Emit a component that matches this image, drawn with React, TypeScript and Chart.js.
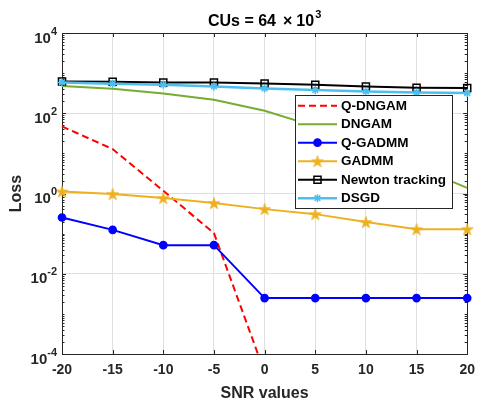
import React, { useEffect, useRef } from 'react';
import { Chart, registerables } from 'chart.js';
import { drawPoint } from 'chart.js/helpers';

Chart.register(...registerables);

// ---- data ----
const snrValues = [-20, -15, -10, -5, 0, 5, 10, 15, 20];
const seriesNames = ['Q-DNGAM', 'DNGAM', 'Q-GADMM', 'GADMM', 'Newton tracking', 'DSGD'];
const qDngam = [46.9, 12.8, 1.17, 0.103, 3.5e-5, null, null, null, null];
const dngam = [480, 410, 310, 218, 115, 47, 14.5, 4.6, 1.38];
const qGadmm = [0.252, 0.124, 0.0516, 0.0516, 0.00247, 0.00247, 0.00247, 0.00247, 0.00247];
const gadmm = [1.12, 0.966, 0.768, 0.576, 0.408, 0.306, 0.194, 0.129, 0.129];
const newtonTracking = [621, 611, 586, 586, 553, 514, 466, 433, 425];
const dsgd = [586, 545, 514, 466, 415, 379, 350, 330, 319];
const xTickStep = 5;
const yTickExponents = [-4, -2, 0, 2, 4];
const titleMain = 'CUs = 64';
const titleTimes = '\u00D7';
const titleBase = '10';
const titleExp = '3';
const xTitle = 'SNR values';
const yTitle = 'Loss';

const FF = "'Liberation Sans', Arial, Helvetica, sans-serif";
const AX = '#262626';
const GRID = '#dfdfdf';
const colors = ['#FF0000', '#77AC30', '#0000FF', '#EDB120', '#000000', '#4DBEEE'];

function makePentagram(color: string): HTMLCanvasElement {
  const c = document.createElement('canvas');
  c.width = 16;
  c.height = 16;
  const g = c.getContext('2d')!;
  const R = 6.2;
  const r = R * 0.382;
  g.beginPath();
  for (let i = 0; i < 10; i++) {
    const rad = i % 2 === 0 ? R : r;
    const a = -Math.PI / 2 + (i * Math.PI) / 5;
    const px = 8 + rad * Math.cos(a);
    const py = 8.6 + rad * Math.sin(a);
    if (i === 0) g.moveTo(px, py);
    else g.lineTo(px, py);
  }
  g.closePath();
  g.fillStyle = color;
  g.fill();
  g.strokeStyle = color;
  g.lineWidth = 0.8;
  g.stroke();
  return c;
}

const decorPlugin = {
  id: 'decor',
  beforeDatasetsDraw(chart: any) {
    const { ctx, chartArea } = chart;
    const { left, right, top, bottom } = chartArea;
    const xs = chart.scales.x;
    const ys = chart.scales.y;
    ctx.save();
    ctx.strokeStyle = AX;
    ctx.lineWidth = 1;
    ctx.strokeRect(Math.round(left) + 0.5, Math.round(top) + 0.5, Math.round(right - left), Math.round(bottom - top));
    ctx.beginPath();
    // x ticks (inward)
    for (let v = xs.min; v <= xs.max; v += xTickStep) {
      const px = Math.round(xs.getPixelForValue(v)) + 0.5;
      ctx.moveTo(px, bottom);
      ctx.lineTo(px, bottom - 4);
      ctx.moveTo(px, top);
      ctx.lineTo(px, top + 4);
    }
    // y ticks (major + minor, inward)
    for (let e = -4; e < 4; e++) {
      for (let k = 1; k <= 9; k++) {
        const v = k * Math.pow(10, e);
        const py = Math.round(ys.getPixelForValue(v)) + 0.5;
        const major = k === 1 && yTickExponents.includes(e);
        const len = major ? 4 : 2.5;
        ctx.moveTo(left, py);
        ctx.lineTo(left + len, py);
        ctx.moveTo(right, py);
        ctx.lineTo(right - len, py);
      }
    }
    ctx.stroke();
    ctx.restore();
  },
  afterDraw(chart: any) {
    const { ctx, chartArea } = chart;
    const { left, right, top, bottom } = chartArea;
    const ys = chart.scales.y;
    ctx.save();
    // y tick labels with superscripts
    ctx.fillStyle = AX;
    ctx.textBaseline = 'alphabetic';
    ctx.textAlign = 'left';
    for (const e of yTickExponents) {
      const py = ys.getPixelForValue(Math.pow(10, e));
      const expStr = String(e);
      ctx.font = `bold 11px ${FF}`;
      const we = ctx.measureText(expStr).width;
      ctx.font = `bold 15px ${FF}`;
      const wb = ctx.measureText('10').width;
      const xEnd = left - 5;
      ctx.fillText('10', xEnd - we - wb, py + 9.5);
      ctx.font = `bold 11px ${FF}`;
      ctx.fillText(expStr, xEnd - we, py + 1.5);
    }
    // y title
    ctx.save();
    ctx.translate(16.5, (top + bottom) / 2);
    ctx.rotate(-Math.PI / 2);
    ctx.font = `bold 16px ${FF}`;
    ctx.textAlign = 'center';
    ctx.textBaseline = 'middle';
    ctx.fillText(yTitle, 0, 0);
    ctx.restore();
    // x title
    ctx.font = `bold 16px ${FF}`;
    ctx.textAlign = 'center';
    ctx.textBaseline = 'alphabetic';
    ctx.fillText(xTitle, (left + right) / 2, 398);
    // title
    ctx.fillStyle = '#000';
    ctx.textAlign = 'left';
    ctx.font = `bold 16px ${FF}`;
    const w1 = ctx.measureText(titleMain).width;
    const wt = ctx.measureText(titleTimes).width;
    const wb = ctx.measureText(titleBase).width;
    ctx.font = `bold 11px ${FF}`;
    const wx = ctx.measureText(titleExp).width;
    const g1 = 7, g2 = 4;
    const total = w1 + g1 + wt + g2 + wb + 1 + wx;
    let tx = (left + right) / 2 - total / 2;
    const tb = 26;
    ctx.font = `bold 16px ${FF}`;
    ctx.fillText(titleMain, tx, tb);
    tx += w1 + g1;
    ctx.fillText(titleTimes, tx, tb);
    tx += wt + g2;
    ctx.fillText(titleBase, tx, tb);
    tx += wb + 1;
    ctx.font = `bold 11px ${FF}`;
    ctx.fillText(titleExp, tx, tb - 8);

    // legend
    const lx = 295.5, ly = 95.5, lw = 157, lh = 113;
    ctx.fillStyle = '#fff';
    ctx.fillRect(lx, ly, lw, lh);
    ctx.strokeStyle = AX;
    ctx.lineWidth = 1;
    ctx.strokeRect(lx, ly, lw, lh);
    chart.data.datasets.forEach((ds: any, i: number) => {
      const y = 105.7 + 18.5 * i;
      ctx.save();
      ctx.strokeStyle = ds.borderColor;
      ctx.lineWidth = ds.borderWidth;
      ctx.setLineDash(ds.borderDash || []);
      ctx.beginPath();
      ctx.moveTo(298, y);
      ctx.lineTo(337, y);
      ctx.stroke();
      ctx.setLineDash([]);
      if (ds.pointRadius > 0) {
        ctx.fillStyle = ds.pointBackgroundColor;
        ctx.strokeStyle = ds.pointBorderColor;
        ctx.lineWidth = ds.pointBorderWidth;
        drawPoint(ctx, { pointStyle: ds.pointStyle, rotation: 0, radius: ds.pointRadius, borderWidth: ds.pointBorderWidth }, 317.5, y);
      }
      ctx.restore();
      ctx.fillStyle = '#000';
      ctx.font = `bold 13.5px ${FF}`;
      ctx.textAlign = 'left';
      ctx.textBaseline = 'middle';
      ctx.fillText(seriesNames[i], 341, y + 0.5);
    });
    ctx.restore();
  },
};

export default function App() {
  const ref = useRef<HTMLCanvasElement>(null);
  useEffect(() => {
    const canvas = ref.current!;
    const pentagram = makePentagram(colors[3]);
    const seriesValues = [qDngam, dngam, qGadmm, gadmm, newtonTracking, dsgd];
    const styles: any[] = [
      { borderDash: [7, 4], pointRadius: 0, pointStyle: 'circle', borderWidth: 2 },
      { pointRadius: 0, pointStyle: 'circle', borderWidth: 2 },
      { pointRadius: 3.6, pointStyle: 'circle', borderWidth: 2, fill: true },
      { pointRadius: 6, pointStyle: pentagram, borderWidth: 2, fill: true },
      { pointRadius: 5, pointStyle: 'rect', borderWidth: 2, fill: false },
      { pointRadius: 4, pointStyle: 'star', borderWidth: 2.5, fill: false },
    ];
    const datasets = seriesValues.map((vals, i) => {
      const st = styles[i];
      return {
        label: seriesNames[i],
        data: snrValues.map((x, j) => ({ x, y: vals[j] })),
        borderColor: colors[i],
        backgroundColor: colors[i],
        borderWidth: st.borderWidth,
        borderDash: st.borderDash || [],
        pointRadius: st.pointRadius,
        pointStyle: st.pointStyle,
        pointBackgroundColor: st.fill ? colors[i] : 'rgba(0,0,0,0)',
        pointBorderColor: colors[i],
        pointBorderWidth: 1.5,
        tension: 0,
        fill: false,
        order: seriesNames.length - 1 - i,
        clip: { left: 10, right: 10, top: 10, bottom: 0 },
      };
    });
    const chart = new Chart(canvas, {
      type: 'line',
      data: { datasets },
      options: {
        responsive: false,
        animation: false,
        devicePixelRatio: 1,
        layout: { padding: { left: 0, right: 8, top: 33, bottom: 0 } },
        plugins: {
          legend: { display: false },
          title: { display: false },
          tooltip: { enabled: false },
        },
        scales: {
          x: {
            type: 'linear',
            min: -20,
            max: 20,
            ticks: {
              stepSize: xTickStep,
              font: { family: FF, size: 14, weight: 'bold' },
              color: AX,
              padding: 8,
              maxRotation: 0,
              autoSkip: false,
            },
            grid: { color: GRID, drawTicks: false },
            border: { display: false },
            afterFit: (s: any) => {
              s.height = 46;
            },
          },
          y: {
            type: 'logarithmic',
            min: 1e-4,
            max: 1e4,
            afterBuildTicks: (s: any) => {
              s.ticks = yTickExponents.map((e) => ({ value: Math.pow(10, e) }));
            },
            ticks: { callback: () => '' },
            grid: { color: GRID, drawTicks: false },
            border: { display: false },
            afterFit: (s: any) => {
              s.width = 62;
            },
          },
        },
      } as any,
      plugins: [decorPlugin],
    });
    return () => chart.destroy();
  }, []);
  return (
    <div style={{ position: 'fixed', left: 0, top: 0, width: 483, height: 400, background: '#fff' }}>
      <canvas ref={ref} width={483} height={400} style={{ display: 'block', width: 483, height: 400 }} />
    </div>
  );
}
